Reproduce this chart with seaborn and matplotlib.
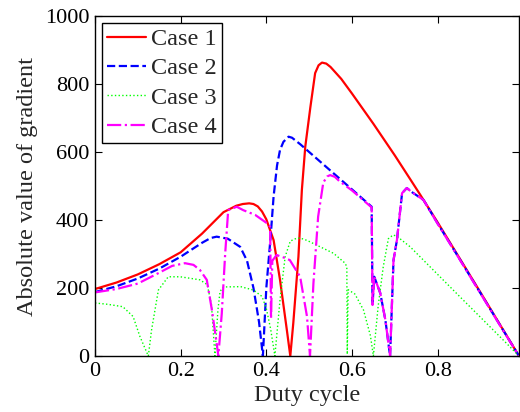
import numpy as np
import pandas as pd
import matplotlib
matplotlib.use("Agg")
import matplotlib.pyplot as plt
import seaborn as sns

# ---- data ----
case1_x = [0, 0.05, 0.10, 0.15, 0.20, 0.25, 0.30, 0.33, 0.345, 0.36, 0.37, 0.38, 0.39, 0.40,
           0.417, 0.432, 0.448, 0.456, 0.463, 0.475, 0.483, 0.491, 0.503, 0.514, 0.522, 0.53,
           0.54, 0.55, 0.575, 0.60, 0.65, 0.70, 0.736, 0.76, 0.80, 0.85, 0.90, 0.95, 0.99]
case1_y = [197, 216, 240, 270, 305, 360, 423, 442, 447, 449, 447, 440, 425, 402,
           341, 224, 76, 0, 97, 292, 488, 616, 733, 832, 855, 863,
           860, 850, 815, 772, 683, 590, 520, 473, 393, 290, 187, 83, 0]

case2_x = [0, 0.05, 0.10, 0.15, 0.20, 0.25, 0.27, 0.284, 0.31, 0.339, 0.355, 0.37, 0.383, 0.392,
           0.40, 0.41, 0.417, 0.425, 0.432, 0.44, 0.452, 0.46, 0.48, 0.52, 0.56, 0.60, 0.646,
           0.648, 0.652, 0.666, 0.678, 0.689, 0.697, 0.705, 0.717, 0.728, 0.74, 0.767, 0.80,
           0.85, 0.90, 0.95, 0.99]
case2_y = [188, 205, 228, 257, 292, 333, 347, 351, 345, 321, 280, 200, 100, 0,
           200, 350, 469, 560, 606, 630, 645, 642, 622, 578, 534, 490, 439,
           150, 233, 185, 106, 0, 282, 341, 479, 494, 482, 459, 390,
           288, 185, 82, 0]

case3_x = [0, 0.03, 0.065, 0.089, 0.105, 0.1245, 0.132, 0.148, 0.171, 0.199, 0.225, 0.245,
           0.262, 0.272, 0.28, 0.287, 0.292, 0.30, 0.34, 0.37, 0.39, 0.40, 0.41, 0.42, 0.432,
           0.444, 0.456, 0.47, 0.479, 0.495, 0.526, 0.557, 0.584, 0.588, 0.589, 0.591, 0.607,
           0.627, 0.643, 0.65, 0.661, 0.673, 0.685, 0.696, 0.705, 0.736, 0.80, 0.853, 0.90,
           0.95, 0.99]
case3_y = [156, 152, 145, 116, 57, 0, 76, 194, 233, 233, 228, 224,
           210, 150, 0, 135, 190, 203, 204, 194, 175, 140, 80, 0, 165,
           292, 338, 346, 347, 340, 321, 302, 273, 262, 5, 195, 182,
           135, 60, 0, 145, 262, 345, 356, 352, 321, 240, 173, 114,
           51, 0]

case4_x = [0, 0.05, 0.10, 0.15, 0.18, 0.21, 0.23, 0.245, 0.261, 0.273, 0.284, 0.288, 0.296,
           0.304, 0.311, 0.331, 0.346, 0.374, 0.401, 0.409, 0.411, 0.414, 0.424, 0.44, 0.455,
           0.479, 0.495, 0.502, 0.51, 0.521, 0.533, 0.542, 0.549, 0.56, 0.57, 0.60, 0.646,
           0.648, 0.652, 0.666, 0.678, 0.689, 0.697, 0.705, 0.717, 0.728, 0.74, 0.767, 0.80,
           0.85, 0.90, 0.95, 0.99]
case4_y = [187, 197, 213, 245, 265, 273, 268, 253, 224, 135, 38, 0, 125,
           302, 429, 439, 429, 415, 391, 380, 110, 280, 297, 290, 282,
           233, 116, 0, 214, 410, 510, 528, 532, 527, 515, 487, 437,
           150, 233, 185, 106, 0, 282, 341, 479, 494, 482, 459, 389,
           287, 184, 81, 0]

labels = ["Case 1", "Case 2", "Case 3", "Case 4"]
x_ticks = [0, 0.2, 0.4, 0.6, 0.8]
x_ticklabels = ["0", "0.2", "0.4", "0.6", "0.8"]
y_ticks = [0, 200, 400, 600, 800, 1000]

# ---- style ----
sns.set_style("ticks")
plt.rcParams["font.family"] = ["Liberation Serif", "DejaVu Serif"]
plt.rcParams["mathtext.fontset"] = "stix"

fig = plt.figure(figsize=(5.2, 4.12), dpi=100)
ax = fig.add_axes([95 / 520, 1 - 356 / 412, 424 / 520, 340 / 412])

series = [
    (case1_x, case1_y, labels[0], "#ff0000", "-", 1.6),
    (case2_x, case2_y, labels[1], "#0000ff", "--", 1.6),
    (case3_x, case3_y, labels[2], "#00ff00", ":", 1.0),
    (case4_x, case4_y, labels[3], "#ff00ff", "-.", 1.6),
]
for xs, ys, lab, col, ls, lw in series:
    df = pd.DataFrame({"x": xs, "y": ys})
    sns.lineplot(data=df, x="x", y="y", ax=ax, color=col, linestyle=ls,
                 linewidth=lw, label=lab, sort=False, estimator=None)

ax.set_xlim(0, 0.99)
ax.set_ylim(0, 1000)
ax.set_xticks(x_ticks)
ax.set_xticklabels(x_ticklabels)
ax.set_yticks(y_ticks)
ax.set_xlabel("Duty cycle", fontsize=17.5, labelpad=3)
ax.set_ylabel("Absolute value of gradient", fontsize=17.5, labelpad=5)
ax.tick_params(direction="in", length=5, width=0.8, labelsize=16,
               top=True, right=True, pad=4, colors="black")
for sp in ax.spines.values():
    sp.set_visible(True)
    sp.set_linewidth(1.0)
    sp.set_color("black")

leg = ax.legend(loc="upper left", fontsize=17.5, frameon=True, fancybox=False,
                framealpha=1, edgecolor="black", handlelength=1.6,
                handletextpad=0.2, labelspacing=0.3, borderpad=0.2,
                borderaxespad=0.3)
leg.get_frame().set_linewidth(1.0)

fig.savefig("out.png", dpi=100)
